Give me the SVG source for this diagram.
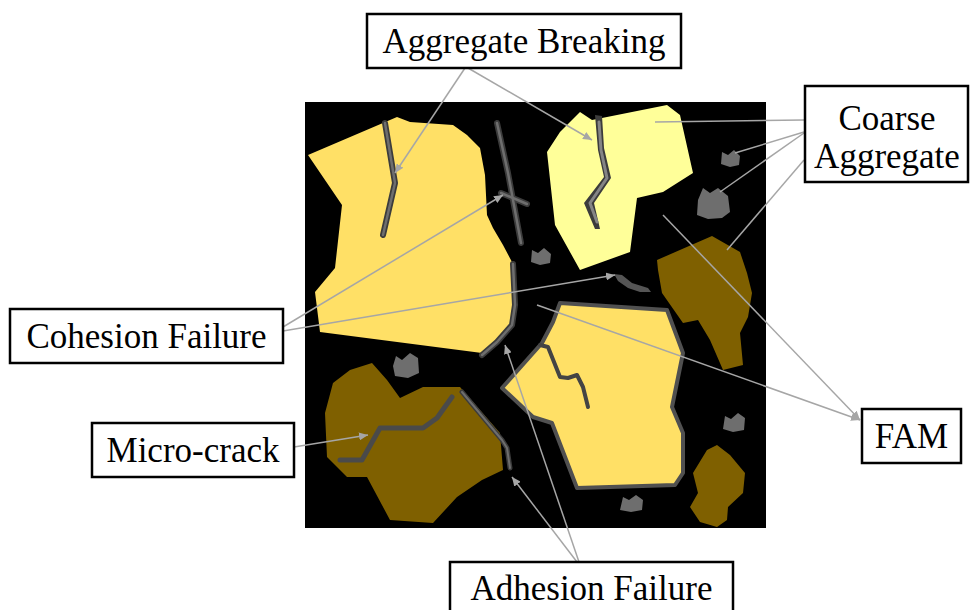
<svg xmlns="http://www.w3.org/2000/svg" width="971" height="610" viewBox="0 0 971 610">
  <defs>
    <style>
      .lbl-box { fill: #ffffff; stroke: #000000; stroke-width: 2.5; }
      .lbl { font-family: Liberation Serif, LiberationSerif, Times New Roman, Times, Tinos, DejaVu Serif, Noto Serif, serif; font-size: 35px; fill: #000000; text-anchor: middle; }
      .agg-gold { fill: #ffe066; }
      .agg-pale { fill: #ffff99; }
      .agg-brown { fill: #7f6000; }
      .fines { fill: #6e6e6e; }
      .crack-out { fill: none; stroke: #3c3c3c; stroke-linejoin: round; stroke-linecap: round; }
      .crack-in { fill: none; stroke: #6e6e6e; stroke-linejoin: round; stroke-linecap: round; }
      .conn { fill: none; stroke: #a6a6a6; stroke-width: 1.5; }
      .conn-arrow { marker-end: url(#arrow); }
    </style>
    <marker id="arrow" markerUnits="userSpaceOnUse" markerWidth="10" markerHeight="8" refX="9" refY="4" orient="auto">
      <path d="M0,0 L9,4 L0,8 z" fill="#a6a6a6"/>
    </marker>
  </defs>

  <!-- asphalt mixture cross-section -->
  <g id="section">
    <rect x="305" y="102" width="461" height="426" fill="#000000"/>

    <!-- large gold aggregate with internal fracture -->
    <g id="agg-large">
      <polygon class="agg-gold" points="308,155 397,117 410,122 453,125 467,135 480,148 485,175 487,215 493,228 503,245 512,262 513,302 510,325 497,342 482,353 320,332 315,292 335,268 342,205"/>
      <polyline class="crack-out" stroke-width="6" points="385,123 395,183 383,235"/>
      <polyline class="crack-in" stroke-width="2.5" points="385,123 395,183 383,235"/>
      <!-- interface debonding -->
      <polyline class="crack-out" stroke-width="6" points="513,264 515,305 512,325 497,342 482,355"/>
      <polyline class="crack-in" stroke-width="2.5" points="513,264 515,305 512,325 497,342 482,355"/>
    </g>

    <!-- pale aggregate with fracture -->
    <g id="agg-pale">
      <polygon class="agg-pale" points="580,112 592,120 667,105 680,115 693,173 663,192 637,198 630,252 580,270 555,225 547,152 560,132"/>
      <polygon fill="#3c3c3c" points="595,115 602,116 604,148 611,178 594,203 600,229 595,229 584,203 604,177 598,150"/>
      <polyline fill="none" stroke="#858585" stroke-width="3" stroke-linejoin="round" stroke-linecap="round" points="599,122 601,150 607,178 590,203 597,222"/>
    </g>

    <!-- mastic crack between aggregates -->
    <g id="mastic-crack">
      <polyline class="crack-out" stroke-width="6" points="497,123 508,173 521,243"/>
      <polyline class="crack-out" stroke-width="6" points="501,193 527,204"/>
      <polyline class="crack-in" stroke-width="2.5" points="497,123 508,173 521,243"/>
      <polyline class="crack-in" stroke-width="2.5" points="501,193 527,204"/>
      <polygon fill="#555555" points="614,274 622,275 632,283 648,288 651,292 640,292 628,288 618,281"/>
    </g>

    <!-- fine particles -->
    <g id="fines">
      <polygon class="fines" points="722,152 728,155 734,150 740,156 739,165 730,167 721,164"/>
      <polygon class="fines" points="703,188 710,193 718,188 728,196 730,212 722,218 708,219 697,215 698,200"/>
      <polygon class="fines" points="532,250 538,253 544,248 551,254 550,263 540,265 531,262"/>
      <polygon class="fines" points="396,356 402,360 410,353 418,358 419,373 408,378 395,376 393,366"/>
      <polygon class="fines" points="725,416 731,419 738,413 745,418 744,430 733,432 723,429"/>
      <polygon class="fines" points="623,497 629,500 636,495 643,500 642,510 631,512 620,510"/>
    </g>

    <!-- brown aggregates -->
    <g id="agg-brown-upper">
      <polygon class="agg-brown" points="657,260 712,236 740,252 747,273 752,293 748,317 740,333 743,365 723,370 710,340 698,320 683,323 662,293 658,270"/>
    </g>
    <g id="agg-brown-lower">
      <polygon class="agg-brown" points="372,363 387,380 400,398 423,387 460,387 500,433 503,470 482,480 457,497 433,523 390,520 367,477 347,477 327,457 325,413 333,383 350,370"/>
      <polyline class="crack-out" stroke-width="5" points="462,392 502,440 507,448 510,468"/>
      <polyline class="crack-in" stroke-width="2" points="462,392 502,440 507,448 510,468"/>
      <polyline fill="none" stroke="#4a4a4a" stroke-width="5" stroke-linejoin="round" stroke-linecap="round" points="340,460 362,460 380,428 423,428 437,418 452,397"/>
    </g>
    <g id="agg-brown-small">
      <polygon class="agg-brown" points="717,445 730,455 745,473 743,493 728,507 727,520 717,527 700,522 690,507 698,493 693,473 707,450"/>
    </g>

    <!-- gold aggregate with debonded rim -->
    <g id="agg-rim">
      <polygon class="agg-gold" stroke="#505050" stroke-width="4" stroke-linejoin="round" points="553,322 560,303 667,310 683,353 672,407 683,433 683,473 675,485 577,488 552,423 533,417 502,388 542,343"/>
      <polyline fill="none" stroke="#444444" stroke-width="4" stroke-linejoin="round" stroke-linecap="round" points="540,345 548,347 560,377 568,378 577,375 583,387 588,407"/>
    </g>
  </g>

  <!-- leader lines -->
  <g id="connectors">
    <line class="conn conn-arrow" x1="465" y1="68" x2="395" y2="173"/>
    <line class="conn conn-arrow" x1="468" y1="68" x2="592" y2="140"/>
    <line class="conn" x1="804" y1="120" x2="655" y2="122"/>
    <line class="conn" x1="804" y1="132" x2="735" y2="153"/>
    <line class="conn" x1="804" y1="133" x2="720" y2="192"/>
    <line class="conn" x1="804" y1="160" x2="727" y2="250"/>
    <line class="conn conn-arrow" x1="283" y1="327" x2="503" y2="195"/>
    <line class="conn conn-arrow" x1="283" y1="331" x2="615" y2="275"/>
    <line class="conn conn-arrow" x1="294" y1="447" x2="368" y2="435"/>
    <line class="conn conn-arrow" x1="579" y1="562" x2="505" y2="345"/>
    <line class="conn conn-arrow" x1="577" y1="562" x2="512" y2="477"/>
    <line class="conn conn-arrow" x1="663" y1="215" x2="860" y2="420"/>
    <line class="conn conn-arrow" x1="537" y1="305" x2="860" y2="420"/>
  </g>

  <g id="label-aggregate-breaking">
    <rect class="lbl-box" x="367" y="14" width="314" height="54"/>
    <text class="lbl" x="524" y="53">Aggregate Breaking</text>
  </g>
  <g id="label-coarse-aggregate">
    <rect class="lbl-box" x="805" y="86" width="163" height="96"/>
    <text class="lbl" x="887" y="130">Coarse</text>
    <text class="lbl" x="887" y="168">Aggregate</text>
  </g>
  <g id="label-cohesion-failure">
    <rect class="lbl-box" x="10" y="309" width="273" height="54"/>
    <text class="lbl" x="146.5" y="348">Cohesion Failure</text>
  </g>
  <g id="label-micro-crack">
    <rect class="lbl-box" x="92" y="423" width="202" height="54"/>
    <text class="lbl" x="193" y="462">Micro-crack</text>
  </g>
  <g id="label-adhesion-failure">
    <rect class="lbl-box" x="450" y="562" width="283" height="60"/>
    <text class="lbl" x="591.5" y="600">Adhesion Failure</text>
  </g>
  <g id="label-fam">
    <rect class="lbl-box" x="862" y="409" width="99" height="54"/>
    <text class="lbl" x="911.5" y="448">FAM</text>
  </g>
</svg>
